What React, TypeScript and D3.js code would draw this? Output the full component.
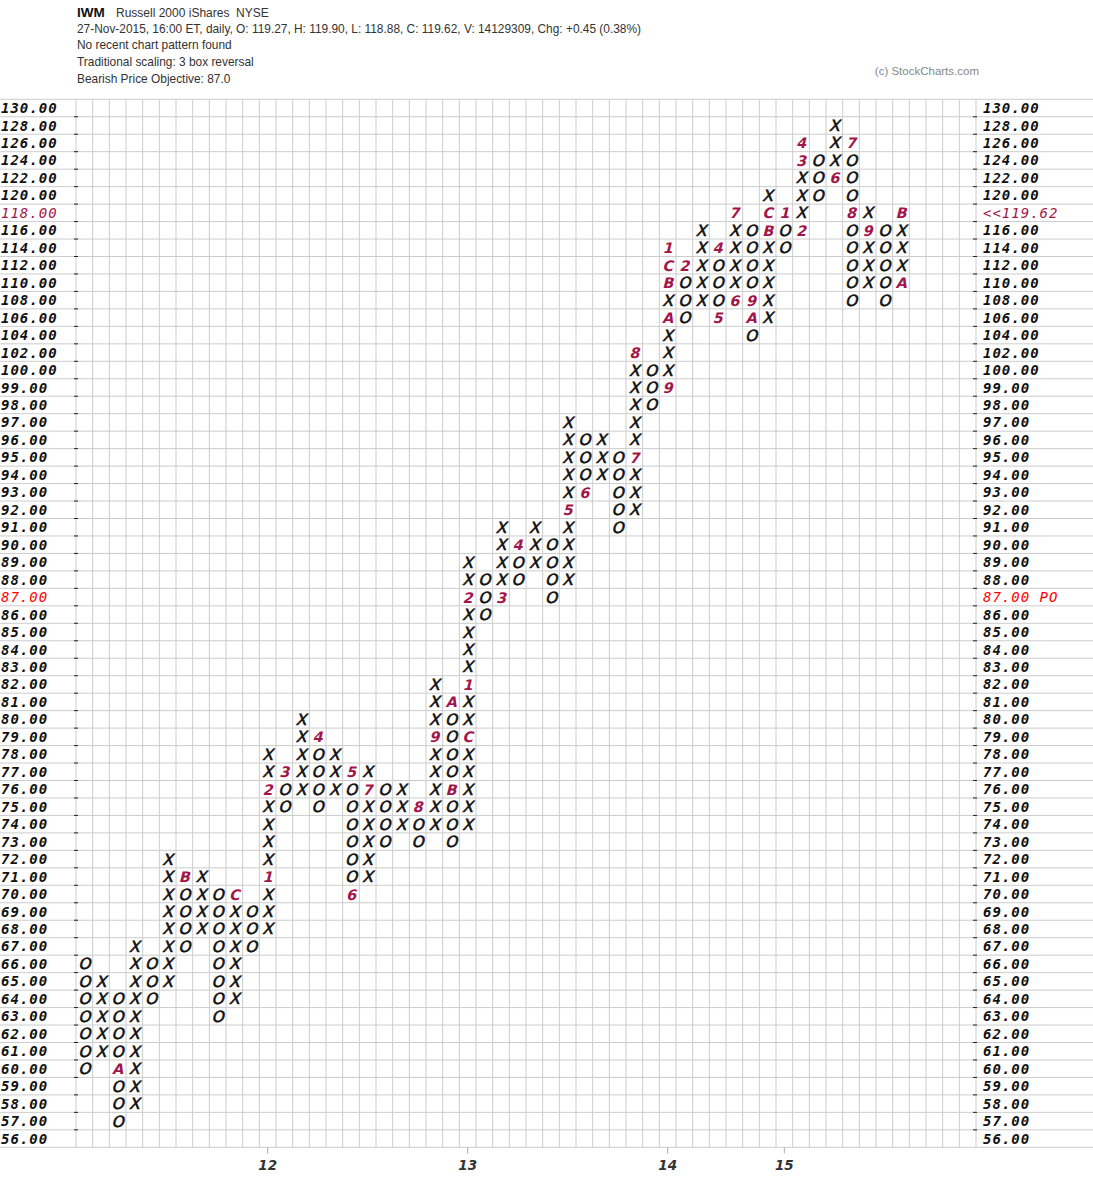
import * as d3 from "d3";

const WIDTH = 1093;
const HEIGHT = 1200;

// price boxes, top to bottom
const priceLevels = [
    130, 128, 126, 124, 122, 120, 118, 116, 114, 112, 110, 108, 106, 104, 102, 100,
    99, 98, 97, 96, 95, 94, 93, 92, 91, 90, 89, 88, 87, 86, 85, 84, 83, 82, 81, 80,
    79, 78, 77, 76, 75, 74, 73, 72, 71, 70, 69, 68, 67, 66, 65, 64, 63, 62, 61, 60,
    59, 58, 57, 56,
];

// one entry per P&F column
const colTypes = "OXOXOXOXOXOXOXOXOXOXOXOXOXOXOXOXOXOXOXOXOXOXOXOXOX".split("");
const colLow = [
    60, 61, 57, 58, 64, 65, 67, 68, 63, 64, 67, 68, 75, 76, 75, 76, 70, 71, 73, 74,
    73, 74, 73, 74, 86, 87, 88, 89, 87, 88, 93, 94, 91, 92, 98, 99, 106, 108, 106, 108,
    104, 106, 114, 116, 120, 122, 108, 110, 108, 110,
];
const colHigh = [
    66, 65, 64, 67, 66, 72, 71, 71, 70, 70, 69, 78, 77, 80, 79, 78, 77, 77, 76, 76,
    75, 82, 81, 89, 88, 91, 90, 91, 90, 97, 96, 96, 95, 102, 100, 114, 112, 116, 114, 118,
    116, 120, 118, 126, 124, 128, 126, 118, 116, 118,
];

// month markers: [column, price, label]
const monthMarks: [number, number, string][] = [
    [2, 60, "A"], [6, 71, "B"], [9, 70, "C"], [11, 71, "1"], [11, 76, "2"], [12, 77, "3"],
    [14, 79, "4"], [16, 77, "5"], [16, 70, "6"], [17, 76, "7"], [20, 75, "8"], [21, 79, "9"],
    [22, 81, "A"], [22, 76, "B"], [23, 79, "C"], [23, 82, "1"], [23, 87, "2"], [25, 87, "3"],
    [26, 90, "4"], [29, 92, "5"], [30, 93, "6"], [33, 95, "7"], [33, 102, "8"], [35, 99, "9"],
    [35, 106, "A"], [35, 110, "B"], [35, 112, "C"], [35, 114, "1"], [36, 112, "2"], [38, 114, "4"],
    [38, 106, "5"], [39, 108, "6"], [39, 118, "7"], [40, 108, "9"], [40, 106, "A"], [41, 116, "B"],
    [41, 118, "C"], [42, 118, "1"], [43, 116, "2"], [43, 124, "3"], [43, 126, "4"], [45, 122, "6"],
    [46, 126, "7"], [46, 118, "8"], [47, 116, "9"], [49, 110, "A"], [49, 118, "B"],
];

// year labels under the columns
const yearCols = [11, 23, 35, 42];
const yearLabels = ["12", "13", "14", "15"];

const headerLines = [
    "27-Nov-2015, 16:00 ET, daily, O: 119.27, H: 119.90, L: 118.88, C: 119.62, V: 14129309, Chg: +0.45 (0.38%)",
    "No recent chart pattern found",
    "Traditional scaling: 3 box reversal",
    "Bearish Price Objective: 87.0",
];

const lastPrice = 119.62;
const lastBox = 118;
const objective = 87;

const NUM_COLS = 54;
const markColor = "#a3154a";

export default function App() {
    const x = d3.scaleBand<number>().domain(d3.range(NUM_COLS)).range([76, 976]);
    const y = d3.scaleBand<number>().domain(priceLevels).range([99.3, 1147.3]);
    const cw = x.bandwidth();
    const rh = y.bandwidth();
    const cx = (c: number) => (x(c) ?? 0) + cw / 2;
    const cy = (p: number) => (y(p) ?? 0) + rh / 2;

    const markKey = new Map(monthMarks.map(([c, p, l]) => [`${c}:${p}`, l]));

    const boxes: { c: number; p: number; t: string; mark?: string }[] = [];
    colTypes.forEach((t, c) => {
        priceLevels
            .filter((p) => p >= colLow[c] && p <= colHigh[c])
            .forEach((p) => boxes.push({ c, p, t, mark: markKey.get(`${c}:${p}`) }));
    });

    const labelFont = {
        fontFamily: "'DejaVu Sans Mono', monospace",
        fontStyle: "italic" as const,
        fontSize: 14,
        letterSpacing: 1,
    };

    return (
        <svg width={WIDTH} height={HEIGHT} style={{ position: "absolute", left: 0, top: 0, background: "#fff" }}>
            {/* header */}
            <g fontFamily="'Liberation Sans', Arial, sans-serif" fill="#333">
                <text x={77} y={16.5} fontSize={13.5} fontWeight="bold" fill="#111">IWM</text>
                <text x={116} y={16.5} fontSize={12}>Russell 2000 iShares</text>
                <text x={236} y={16.5} fontSize={12}>NYSE</text>
                {headerLines.map((line, i) => (
                    <text key={i} x={77} y={32.5 + i * 16.7} fontSize={11.9}>{line}</text>
                ))}
                <text x={979} y={75} fontSize={11.5} fill="#888" textAnchor="end">(c) StockCharts.com</text>
            </g>

            {/* grid */}
            <g stroke="#cccccc" strokeWidth={1}>
                {priceLevels.map((p) => (
                    <line key={`h${p}`} x1={0} x2={WIDTH} y1={y(p)} y2={y(p)} />
                ))}
                <line x1={0} x2={WIDTH} y1={y.range()[1]} y2={y.range()[1]} />
                {d3.range(NUM_COLS + 1).map((c) => {
                    const xx = c < NUM_COLS ? x(c) ?? 0 : x.range()[1];
                    return <line key={`v${c}`} x1={xx} x2={xx} y1={y.range()[0]} y2={y.range()[1]} />;
                })}
            </g>

            {/* tick dashes on both sides */}
            <g stroke="#222" strokeWidth={1}>
                {priceLevels.slice(1).map((p) => (
                    <g key={`t${p}`}>
                        <line x1={74} x2={78} y1={y(p)} y2={y(p)} />
                        <line x1={973} x2={977} y1={y(p)} y2={y(p)} />
                    </g>
                ))}
            </g>

            {/* price labels */}
            <g {...labelFont}>
                {priceLevels.map((p) => {
                    const isLast = p === lastBox;
                    const isPO = p === objective;
                    const fill = isLast ? markColor : isPO ? "#ff0000" : "#111";
                    const weight = isLast || isPO ? "normal" : "bold";
                    const rightText = isLast ? `<<${lastPrice.toFixed(2)}` : isPO ? `${p.toFixed(2)} PO` : p.toFixed(2);
                    return (
                        <g key={`l${p}`} fill={fill} fontWeight={weight}>
                            <text x={1} y={cy(p) + 5}>{p.toFixed(2)}</text>
                            <text x={983} y={cy(p) + 5}>{rightText}</text>
                        </g>
                    );
                })}
            </g>

            {/* X / O boxes */}
            <g textAnchor="middle" fontFamily="'DejaVu Sans', sans-serif">
                {boxes.map((b) => (
                    <text
                        key={`${b.c}-${b.p}`}
                        transform={`translate(${cx(b.c)},${cy(b.p) + 5.5}) skewX(-14)`}
                        fontWeight={b.mark ? "bold" : "normal"}
                        fontSize={b.mark ? 14.5 : 15.5}
                        fill={b.mark ? markColor : "#111"}
                        stroke={b.mark ? "none" : "#111"}
                        strokeWidth={0.6}
                    >
                        {b.mark ?? b.t}
                    </text>
                ))}
            </g>

            {/* year axis */}
            <g>
                {yearCols.map((c, i) => (
                    <g key={`y${c}`}>
                        <line x1={cx(c)} x2={cx(c)} y1={y.range()[1]} y2={y.range()[1] + 6} stroke="#aaa" />
                        <text
                            x={cx(c)}
                            y={1170}
                            textAnchor="middle"
                            fontFamily="'DejaVu Sans', sans-serif"
                            fontWeight="bold"
                            fontStyle="italic"
                            fontSize={13.5}
                            fill="#333"
                        >
                            {yearLabels[i]}
                        </text>
                    </g>
                ))}
            </g>
        </svg>
    );
}
